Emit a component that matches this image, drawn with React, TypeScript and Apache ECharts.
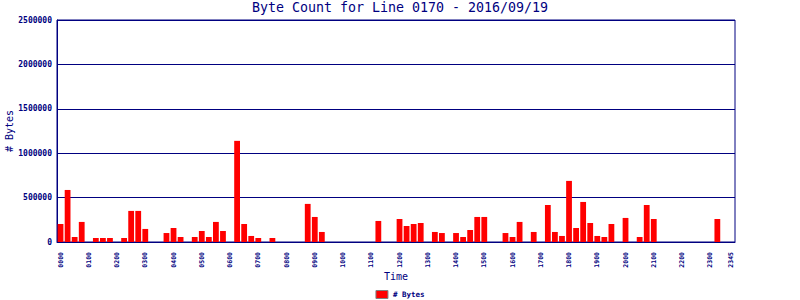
import React, { useEffect, useRef } from "react";
import * as echarts from "echarts";

const HOURS = ["00","01","02","03","04","05","06","07","08","09","10","11","12","13","14","15","16","17","18","19","20","21","22","23"];
const QUARTERS = ["00", "15", "30", "45"];
const categories: string[] = HOURS.flatMap((h) => QUARTERS.map((q) => h + q));

const byteCounts: number[] = [
  203000, 586000, 56000, 226000, 0, 45000, 45000, 45000,
  0, 45000, 350000, 350000, 147000, 0, 0, 101000,
  158000, 56000, 0, 56000, 124000, 56000, 226000, 124000,
  0, 1139000, 203000, 68000, 45000, 0, 45000, 0,
  0, 0, 0, 429000, 282000, 113000, 0, 0,
  0, 0, 0, 0, 0, 237000, 0, 0,
  259000, 180000, 203000, 214000, 0, 113000, 101000, 0,
  101000, 56000, 135000, 282000, 282000, 0, 0, 101000,
  56000, 226000, 0, 113000, 0, 417000, 113000, 68000,
  688000, 158000, 451000, 214000, 68000, 56000, 203000, 0,
  271000, 0, 56000, 417000, 259000, 0, 0, 0,
  0, 0, 0, 0, 0, 259000, 0, 0,
];

const TITLE = "Byte Count for Line 0170 - 2016/09/19";
const SERIES_NAME = "# Bytes";
const NAVY = "#000080";
const MONO = "'DejaVu Sans Mono', 'Liberation Mono', monospace";

export default function App() {
  const ref = useRef<HTMLDivElement>(null);
  useEffect(() => {
    if (!ref.current) return;
    const chart = echarts.init(ref.current, null, { renderer: "svg" });
    chart.setOption({
      animation: false,
      backgroundColor: "#ffffff",
      title: {
        text: TITLE,
        left: "center",
        top: 1,
        padding: 0,
        textStyle: { color: NAVY, fontFamily: MONO, fontSize: 13.3, fontWeight: "normal" },
      },
      legend: {
        bottom: 0,
        left: "center",
        padding: [0, 5, 1, 5],
        itemWidth: 12,
        itemHeight: 8,
        itemGap: 4,
        icon: "rect",
        itemStyle: { borderColor: "#808080", borderWidth: 1 },
        textStyle: { color: NAVY, fontFamily: MONO, fontSize: 7.5, fontWeight: "bold" },
        data: [SERIES_NAME],
      },
      grid: {
        left: 57,
        right: 65,
        top: 20,
        bottom: 58,
        outerBoundsMode: "none",
        containLabel: false,
        show: true,
        borderColor: NAVY,
        borderWidth: 1,
      },
      xAxis: {
        type: "category",
        data: categories,
        boundaryGap: true,
        name: "Time",
        nameLocation: "middle",
        nameGap: 29,
        nameMoveOverlap: false,
        nameTextStyle: { color: NAVY, fontFamily: MONO, fontSize: 10 },
        axisLine: { lineStyle: { color: NAVY, width: 1 } },
        axisTick: { show: false },
        axisLabel: {
          rotate: 90,
          margin: 10,
          color: NAVY,
          fontFamily: MONO,
          fontSize: 6.5,
          fontWeight: "bold",
          interval: (i: number) => i % 4 === 0 || i === categories.length - 1,
        },
        splitLine: { show: false },
      },
      yAxis: {
        type: "value",
        min: 0,
        max: 2500000,
        interval: 500000,
        name: SERIES_NAME,
        nameLocation: "middle",
        nameGap: 43,
        nameRotate: 90,
        nameMoveOverlap: false,
        nameTextStyle: { color: NAVY, fontFamily: MONO, fontSize: 10 },
        axisLine: { show: true, lineStyle: { color: NAVY, width: 1 } },
        axisTick: { show: false },
        axisLabel: {
          color: NAVY,
          fontFamily: MONO,
          fontSize: 8,
          fontWeight: "bold",
          margin: 5,
          formatter: (v: number) => String(v),
        },
        splitLine: { show: true, lineStyle: { color: NAVY, width: 1 } },
      },
      series: [
        {
          name: SERIES_NAME,
          type: "bar",
          data: byteCounts,
          barCategoryGap: "18%",
          itemStyle: { color: "#ff0000" },
        },
      ],
    });
    return () => chart.dispose();
  }, []);
  return (
    <div
      ref={ref}
      style={{ position: "absolute", left: 0, top: 0, width: 800, height: 300 }}
    />
  );
}
